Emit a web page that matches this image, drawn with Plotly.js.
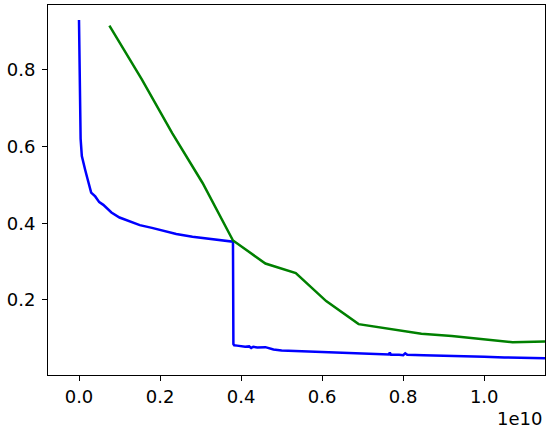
<!DOCTYPE html>
<html>
<head>
<meta charset="utf-8">
<script src="https://cdn.plot.ly/plotly-3.0.1.min.js"></script>
<style>
  html, body { margin: 0; padding: 0; background: #fff; }
  #chart { width: 548px; height: 433px; }
</style>
</head>
<body>
<div id="chart"></div>
<script>
// blue series (x in raw units, offset 1e10 shown on axis)
var blueX = [0, 0.001e10, 0.002e10, 0.004e10, 0.007e10, 0.01e10, 0.015e10, 0.02e10, 0.03e10, 0.04e10, 0.05e10,
  0.06e10, 0.07e10, 0.08e10, 0.1e10, 0.125e10, 0.15e10, 0.18e10, 0.2e10, 0.24e10, 0.28e10, 0.32e10, 0.36e10,
  0.38e10, 0.381e10, 0.383e10, 0.39e10, 0.4e10, 0.41e10, 0.42e10, 0.425e10, 0.43e10, 0.44e10, 0.46e10, 0.48e10,
  0.5e10, 0.55e10, 0.6e10, 0.65e10, 0.7e10, 0.75e10, 0.765e10, 0.767e10, 0.77e10, 0.79e10, 0.8e10, 0.805e10,
  0.81e10, 0.85e10, 0.9e10, 0.95e10, 1.0e10, 1.05e10, 1.1e10, 1.15e10];
var blueY = [0.93, 0.80, 0.70, 0.62, 0.575, 0.56, 0.54, 0.52, 0.48, 0.47, 0.455,
  0.448, 0.438, 0.428, 0.415, 0.405, 0.395, 0.388, 0.382, 0.372, 0.365, 0.360, 0.356,
  0.352, 0.085, 0.082, 0.081, 0.080, 0.078, 0.079, 0.075, 0.078, 0.076, 0.077, 0.071,
  0.068, 0.066, 0.063, 0.062, 0.059, 0.058, 0.058, 0.063, 0.057, 0.057, 0.056, 0.061,
  0.057, 0.056, 0.055, 0.053, 0.052, 0.050, 0.049, 0.048];

// green series
var greenX = [0.075e10, 0.155e10, 0.23e10, 0.305e10, 0.38e10, 0.46e10, 0.535e10, 0.61e10, 0.69e10,
  0.77e10, 0.845e10, 0.92e10, 1.0e10, 1.07e10, 1.15e10];
var greenY = [0.915, 0.775, 0.635, 0.505, 0.355, 0.295, 0.27, 0.197, 0.137,
  0.124, 0.112, 0.106, 0.098, 0.090, 0.092];

var xTicks = [0, 0.2e10, 0.4e10, 0.6e10, 0.8e10, 1.0e10];
var xTickText = ['0.0', '0.2', '0.4', '0.6', '0.8', '1.0'];
var yTicks = [0.2, 0.4, 0.6, 0.8];
var yTickText = ['0.2', '0.4', '0.6', '0.8'];

var data = [
  { x: blueX, y: blueY, type: 'scatter', mode: 'lines', line: { color: '#0000ff', width: 2.5 }, hoverinfo: 'skip' },
  { x: greenX, y: greenY, type: 'scatter', mode: 'lines', line: { color: '#008000', width: 2.5 }, hoverinfo: 'skip' }
];

var layout = {
  width: 548,
  height: 433,
  margin: { l: 48, r: 3, t: 5, b: 58 },
  paper_bgcolor: '#fff',
  plot_bgcolor: '#fff',
  showlegend: false,
  font: { family: 'DejaVu Sans', size: 18, color: '#000' },
  xaxis: {
    range: [-0.0765e10, 1.15e10],
    tickvals: xTicks,
    ticktext: xTickText,
    ticks: 'outside', ticklen: 5, tickwidth: 1, tickcolor: '#000',
    showline: true, linecolor: '#000', linewidth: 1, mirror: true,
    showgrid: false, zeroline: false
  },
  yaxis: {
    range: [0.0044, 0.969],
    tickvals: yTicks,
    ticktext: yTickText,
    ticks: 'outside', ticklen: 5, tickwidth: 1, tickcolor: '#000',
    ticklabelstandoff: 3,
    showline: true, linecolor: '#000', linewidth: 1, mirror: true,
    showgrid: false, zeroline: false
  },
  annotations: [{
    text: '1e10', xref: 'paper', yref: 'paper', x: 1, y: 0,
    xanchor: 'right', yanchor: 'top', yshift: -31, xshift: -1, showarrow: false,
    font: { family: 'DejaVu Sans', size: 18, color: '#000' }
  }]
};

Plotly.newPlot('chart', data, layout, { displayModeBar: false, staticPlot: true });
</script>
</body>
</html>
